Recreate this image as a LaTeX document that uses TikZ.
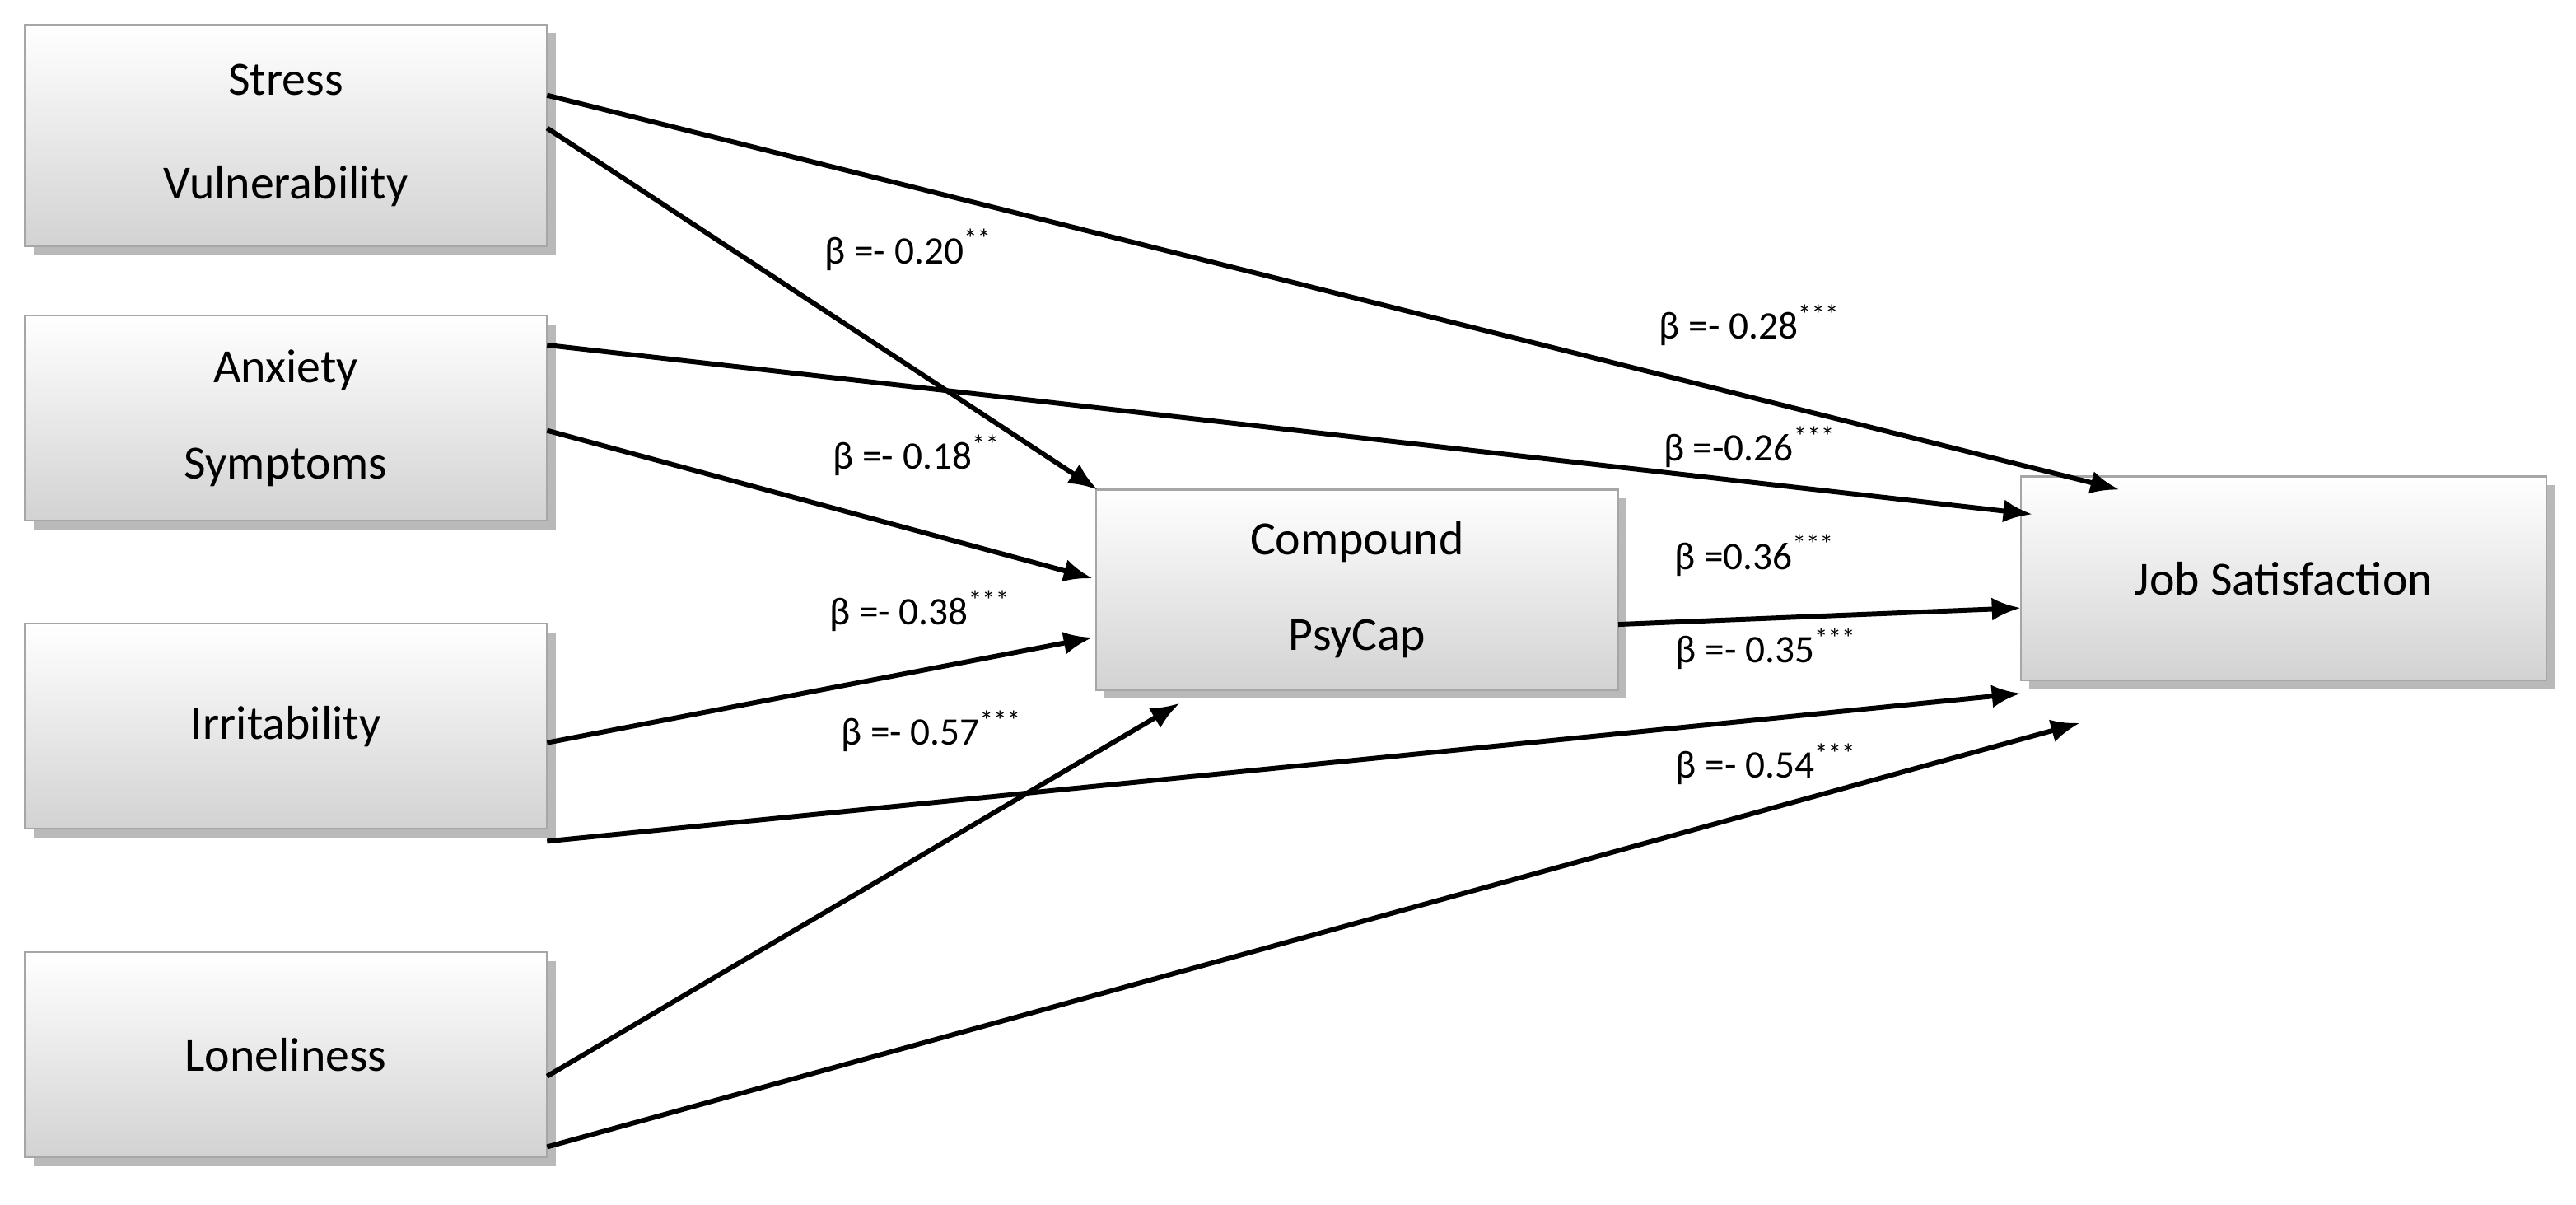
\documentclass[tikz,border=0pt]{standalone}
\usepackage{fontspec}
\setmainfont{Carlito}
\usetikzlibrary{shadows,arrows.meta}
\begin{document}
\begin{tikzpicture}[x=0.02cm,y=-0.02cm,
 box/.style={draw=gray!70,line width=0.6pt,top color=white,bottom color=gray!35,
   drop shadow={fill=gray!55,shadow xshift=3pt,shadow yshift=-3pt,opacity=1},
   font=\fontsize{16.5}{19}\selectfont,align=center,minimum width=6.36cm,minimum height=2.5cm,inner sep=0pt},
 arr/.style={line width=1.7pt,-{Latex[length=10pt,width=8pt]}},
 lab/.style={font=\fontsize{13.5}{16}\selectfont}]
\useasboundingbox (0,0) rectangle (1568,733);
\node[box,minimum height=2.7cm] (sv) at (174,82.5) {Stress\\[0.6cm]Vulnerability};
\node[box] (an) at (174,254.5) {Anxiety\\[0.5cm]Symptoms};
\node[box] (ir) at (174,442) {Irritability};
\node[box] (lo) at (174,642) {Loneliness};
\node[box,minimum height=2.44cm] (pc) at (826,359) {Compound\\[0.5cm]PsyCap};
\node[box,minimum width=6.4cm,minimum height=2.48cm] (js) at (1390,352) {Job Satisfaction};
\coordinate (a1) at (333,58); \coordinate (b1) at (1290,298);
\coordinate (a2) at (333,78); \coordinate (b2) at (668,298);
\coordinate (a3) at (333,210); \coordinate (b3) at (1237,313);
\coordinate (a4) at (333,262); \coordinate (b4) at (665,352);
\coordinate (a5) at (333,452); \coordinate (b5) at (665,388);
\coordinate (a6) at (333,512); \coordinate (b6) at (1230,422);
\coordinate (a7) at (333,655); \coordinate (b7) at (718,428);
\coordinate (a8) at (333,698); \coordinate (b8) at (1266,440);
\coordinate (a9) at (985,380); \coordinate (b9) at (1230,370);
\foreach \i in {1,...,9} \draw[arr] (a\i) -- (b\i);
\node[lab] (l1) at (1065,198) {β =- 0.28\textsuperscript{***}};
\node[lab] (l2) at (553,152) {β =- 0.20\textsuperscript{**}};
\node[lab] (l3) at (1065,272) {β =-0.26\textsuperscript{***}};
\node[lab] (l4) at (558,277) {β =- 0.18\textsuperscript{**}};
\node[lab] (l5) at (560,372) {β =- 0.38\textsuperscript{***}};
\node[lab] (l6) at (567,445) {β =- 0.57\textsuperscript{***}};
\node[lab] (l7) at (1075,465) {β =- 0.54\textsuperscript{***}};
\node[lab] (l8) at (1068,338) {β =0.36\textsuperscript{***}};
\node[lab] (l9) at (1075,395) {β =- 0.35\textsuperscript{***}};
\end{tikzpicture}
\end{document}
